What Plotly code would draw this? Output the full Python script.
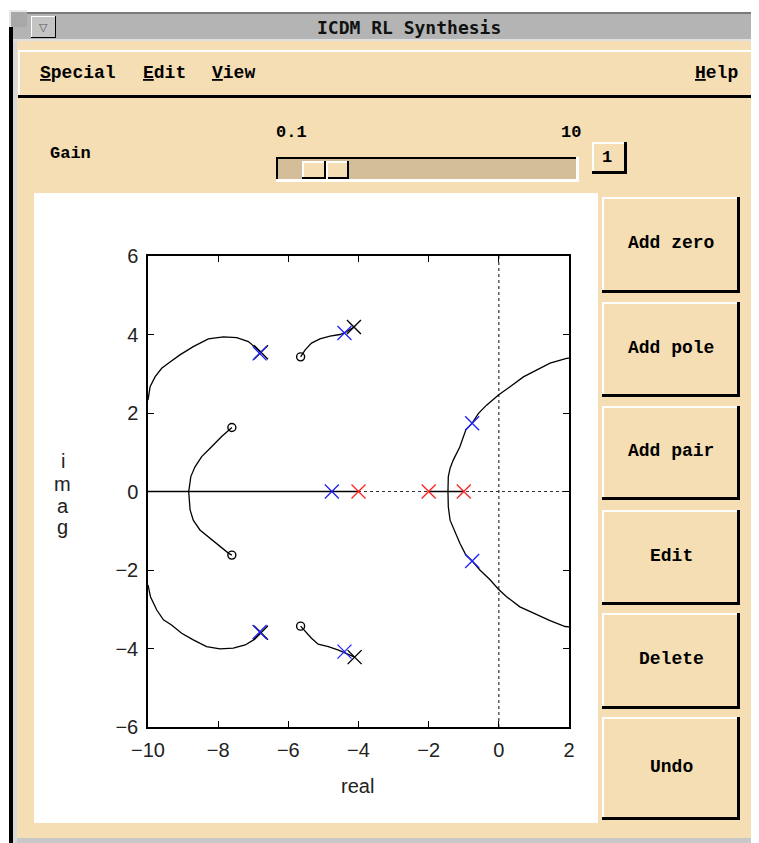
import plotly.graph_objects as go

W, H = 759, 843          # window size of the reference
OFF = 8                  # default page body margin
FW, FH = W - OFF, H - OFF

# ---------------- data ----------------
x_ticks = [-10, -8, -6, -4, -2, 0, 2]
y_ticks = [-6, -4, -2, 0, 2, 4, 6]
x_range = [-10, 2]
y_range = [-6, 6]

# open-loop complex poles (black x)
pole_re = [-4.13, -4.11, -6.78, -6.78]
pole_im = [4.19, -4.22, 3.55, -3.60]
# open-loop real poles (red x)
real_pole_re = [-4.0, -2.0, -1.0]
real_pole_im = [0.0, 0.0, 0.0]
# open-loop zeros (o)
zero_re = [-5.65, -5.65, -7.61, -7.61]
zero_im = [3.43, -3.43, 1.63, -1.62]
# closed-loop poles at current gain (blue x)
cl_re = [-4.40, -4.40, -6.82, -6.82, -4.76, -0.76, -0.76]
cl_im = [4.04, -4.08, 3.52, -3.58, 0.0, 1.74, -1.77]

# root-locus branches
br_real_left_re = [-10.0, -4.0]
br_real_left_im = [0.0, 0.0]
br_real_mid_re = [-2.0, -1.0]
br_real_mid_im = [0.0, 0.0]

br_left_re = [-7.61, -7.90, -8.23, -8.47, -8.66, -8.78, -8.82, -8.84, -8.80, -8.71,
              -8.52, -8.23, -7.95, -7.71, -7.61]
br_left_im = [1.63, 1.40, 1.10, 0.89, 0.63, 0.38, 0.12, 0.0, -0.47, -0.73,
              -0.98, -1.19, -1.41, -1.57, -1.62]

br_arc_up_re = [-10.0, -9.94, -9.80, -9.61, -9.42, -9.09, -8.71, -8.28, -7.85, -7.47,
                -7.14, -6.95, -6.78]
br_arc_up_im = [2.33, 2.67, 2.92, 3.14, 3.27, 3.48, 3.69, 3.89, 3.94, 3.92,
                3.82, 3.69, 3.55]
br_arc_dn_re = [-10.0, -9.93, -9.75, -9.56, -9.33, -9.04, -8.71, -8.33, -7.95, -7.57,
                -7.23, -6.99, -6.78]
br_arc_dn_im = [-2.38, -2.68, -3.02, -3.27, -3.40, -3.61, -3.78, -3.95, -4.01, -3.99,
                -3.91, -3.78, -3.60]

br_small_up_re = [-5.65, -5.52, -5.34, -5.10, -4.81, -4.53, -4.34, -4.13]
br_small_up_im = [3.43, 3.61, 3.78, 3.89, 3.96, 4.00, 4.07, 4.19]
br_small_dn_re = [-5.65, -5.52, -5.34, -5.15, -4.86, -4.57, -4.34, -4.11]
br_small_dn_im = [-3.43, -3.57, -3.74, -3.89, -3.95, -4.04, -4.12, -4.22]

br_big_re = [2.0, 1.93, 1.46, 1.08, 0.70, 0.32, -0.01, -0.35, -0.58, -0.76, -0.94,
             -1.11, -1.30, -1.39, -1.44, -1.45, -1.44, -1.39, -1.25, -1.11, -0.94,
             -0.76, -0.54, -0.25, -0.01, 0.22, 0.60, 0.98, 1.46, 1.89, 2.0]
br_big_im = [3.40, 3.39, 3.27, 3.10, 2.92, 2.67, 2.46, 2.20, 1.99, 1.74, 1.57,
             1.14, 0.80, 0.59, 0.38, 0.0, -0.39, -0.73, -1.02, -1.32, -1.62,
             -1.77, -2.00, -2.25, -2.49, -2.68, -2.94, -3.10, -3.29, -3.44, -3.45]

branches = [
    (br_real_left_re, br_real_left_im),
    (br_real_mid_re, br_real_mid_im),
    (br_left_re, br_left_im),
    (br_arc_up_re, br_arc_up_im),
    (br_arc_dn_re, br_arc_dn_im),
    (br_small_up_re, br_small_up_im),
    (br_small_dn_re, br_small_dn_im),
    (br_big_re, br_big_im),
]

title_text = "ICDM RL Synthesis"
menu_left = [("<u>S</u>pecial", 38), ("<u>E</u>dit", 141), ("<u>V</u>iew", 210)]
menu_right = ("<u>H</u>elp", 693)
gain_label = "Gain"
gain_min, gain_max, gain_val = "0.1", "10", "1"
buttons = [("Add zero", 197, 293), ("Add pole", 302, 397), ("Add pair", 406, 500),
           ("Edit", 510, 605), ("Delete", 613, 709), ("Undo", 717, 820)]
x_title = "real"
y_title = "imag"

# ---------------- styling helpers ----------------
TAN = "#F5DEB3"
TROUGH = "#D4BE9A"
GRAY = "#B4B4B4"
GUI_FONT = "Liberation Mono"

def px(x):
    return (x - OFF) / FW

def py(y):
    return 1 - (y - OFF) / FH

shapes = []
annotations = []

def rect(x0, y0, x1, y1, fill, line_color=None, lw=0):
    shapes.append(dict(type="rect", xref="paper", yref="paper", layer="below",
                       x0=px(x0), x1=px(x1), y0=py(y1), y1=py(y0),
                       fillcolor=fill,
                       line=dict(width=lw, color=line_color or fill)))

def bevel(x0, y0, x1, y1, fill, raised=True, tl=2, br=3):
    light, dark = ("white", "black") if raised else ("black", "white")
    rect(x0, y0, x1, y1, fill)
    rect(x0, y0, x1, y0 + tl, light)
    rect(x0, y0, x0 + tl, y1, light)
    rect(x0, y1 - br, x1, y1, dark)
    rect(x1 - br, y0, x1, y1, dark)

def text(t, x, y, size=18, family=GUI_FONT, bold=True, xanchor="center", color="black"):
    annotations.append(dict(text=("<b>%s</b>" % t) if bold else t, x=px(x), y=py(y),
                            xref="paper", yref="paper", showarrow=False,
                            xanchor=xanchor, yanchor="middle",
                            font=dict(family=family, size=size, color=color)))

# window frame
rect(OFF, OFF, W, H, "white")
rect(9, 10, W, H, "#8C8C8C")
rect(13, 12, W, 838, TAN)
rect(13, 838, W, H, "#C8C8C8")
rect(9, 10, 13, H, "black")
rect(13, 40, 17, H, "#D8D8D8")
# title bar
rect(13, 12, 752, 40, GRAY)
rect(13, 12, 752, 14, "#7A7A7A")
rect(13, 39, 752, 41, "#E0E0E0")
rect(9, 10, 27, 27, "#A8A8A8")
rect(9, 10, 27, 12, "#E8E8E8")
rect(9, 10, 11, 27, "#E8E8E8")
rect(752, 10, W, 40, "#C8C8C8")
bevel(31, 16, 56, 38, "#C4C4C4", raised=True, tl=1, br=1)
text("▽", 43.5, 27, size=11, family="DejaVu Sans", bold=False, color="#555")
text(title_text, 409, 28, size=18, family="DejaVu Sans Mono", bold=True, color="#111")

# menu bar
rect(17, 41, W, 838, TAN)
bevel(18, 50, 755, 98, TAN, raised=True, tl=2, br=3)
for t, x in menu_left:
    text(t, x, 73, xanchor="left")
text(menu_right[0], menu_right[1], 73, xanchor="left")

# gain row
text(gain_label, 48, 153, xanchor="left", size=17)
text(gain_min, 274, 133, xanchor="left", size=17)
text(gain_max, 583, 133, xanchor="right", size=17)
bevel(276, 157, 579, 182, TROUGH, raised=False, tl=2, br=3)
bevel(302, 161, 349, 179, TAN, raised=True, tl=2, br=2)
rect(324, 161, 326, 179, "black")
rect(326, 161, 328, 179, "white")
bevel(592, 142, 627, 174, TAN, raised=True, tl=2, br=3)
text(gain_val, 607, 157, size=17)

# white plotting panel
rect(34, 193, 598, 823, "white")

# buttons
for label, y0, y1 in buttons:
    bevel(602, y0, 740, y1, TAN, raised=True, tl=2, br=3)
    text(label, 671, (y0 + y1) / 2 - 2, size=18)

# axis titles
text(x_title, 357, 786, size=20, family="Liberation Sans", bold=False, color="#222")
for ch, yy in zip(y_title, [461, 484, 506, 527]):
    text(ch, 63, yy, size=20, family="Liberation Sans", bold=False, color="#222")

# ---------------- figure ----------------
fig = go.Figure()

for bx, by in branches:
    fig.add_trace(go.Scatter(x=bx, y=by, mode="lines",
                             line=dict(color="black", width=1.3),
                             hoverinfo="skip", showlegend=False))

fig.add_trace(go.Scatter(x=zero_re, y=zero_im, mode="markers",
                         marker=dict(symbol="circle-open", size=8, color="black",
                                     line=dict(width=1.4, color="black")),
                         showlegend=False))
fig.add_trace(go.Scatter(x=pole_re, y=pole_im, mode="markers",
                         marker=dict(symbol="x-thin", size=14,
                                     line=dict(width=1.4, color="black")),
                         showlegend=False))
fig.add_trace(go.Scatter(x=real_pole_re, y=real_pole_im, mode="markers",
                         marker=dict(symbol="x-thin", size=14,
                                     line=dict(width=1.3, color="#FF2020")),
                         showlegend=False))
fig.add_trace(go.Scatter(x=cl_re, y=cl_im, mode="markers",
                         marker=dict(symbol="x-thin", size=14,
                                     line=dict(width=1.3, color="#2020FF")),
                         showlegend=False))

fig.add_hline(y=0, line=dict(color="#333333", width=1.2, dash="dot"), layer="below")
fig.add_vline(x=0, line=dict(color="#333333", width=1.2, dash="dot"), layer="below")

axis_common = dict(showgrid=False, zeroline=False, showline=True, linecolor="black",
                   linewidth=1.5, mirror="ticks", ticks="inside", ticklen=6,
                   tickwidth=1.3, tickcolor="black", automargin=False,
                   tickfont=dict(family="Liberation Sans", size=20, color="#222"))

fig.update_layout(
    width=FW, height=FH, autosize=False,
    margin=dict(l=0, r=0, t=0, b=0, pad=0, autoexpand=False),
    paper_bgcolor="white", plot_bgcolor="white",
    xaxis=dict(range=x_range, tickvals=x_ticks,
               domain=[px(148), px(569)], ticklabelstandoff=4, **axis_common),
    yaxis=dict(range=y_range, tickvals=y_ticks,
               domain=[py(727), py(256)], ticklabelstandoff=4, **axis_common),
    shapes=shapes + list(fig.layout.shapes),
    annotations=annotations,
)

fig.write_html("out.html", config={"displayModeBar": False})
